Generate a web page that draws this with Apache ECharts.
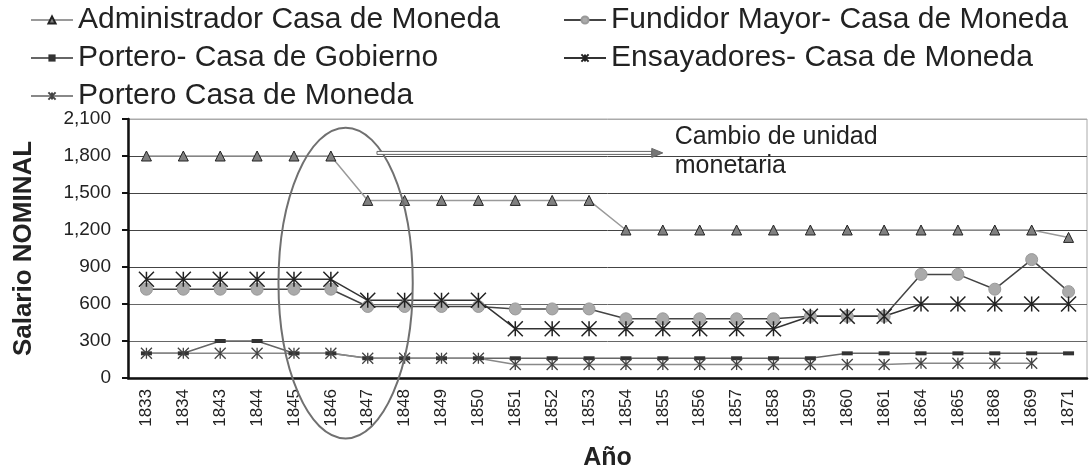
<!DOCTYPE html>
<html>
<head>
<meta charset="utf-8">
<script src="https://cdn.jsdelivr.net/npm/echarts@6/dist/echarts.min.js"></script>
<style>
  html, body { margin: 0; padding: 0; background: #fff; }
  #chart { width: 1089px; height: 472px; }
</style>
</head>
<body>
<div id="chart"></div>
<script>
// años (categorías del eje X)
const years = ['1833', '1834', '1843', '1844', '1845', '1846', '1847', '1848', '1849', '1850',
  '1851', '1852', '1853', '1854', '1855', '1856', '1857', '1858', '1859', '1860',
  '1861', '1864', '1865', '1868', '1869', '1871'];

// salarios nominales por cargo
const administrador = [1800, 1800, 1800, 1800, 1800, 1800, 1440, 1440, 1440, 1440,
  1440, 1440, 1440, 1200, 1200, 1200, 1200, 1200, 1200, 1200,
  1200, 1200, 1200, 1200, 1200, 1140];
const fundidor = [720, 720, 720, 720, 720, 720, 580, 580, 580, 580,
  560, 560, 560, 480, 480, 480, 480, 480, 500, 500,
  500, 840, 840, 720, 960, 700];
const porteroGobierno = [200, 200, 300, 300, 200, 200, 160, 160, 160, 160,
  160, 160, 160, 160, 160, 160, 160, 160, 160, 200,
  200, 200, 200, 200, 200, 200];
const ensayadores = [800, 800, 800, 800, 800, 800, 630, 630, 630, 630,
  400, 400, 400, 400, 400, 400, 400, 400, 500, 500,
  500, 600, 600, 600, 600, 600];
const porteroMoneda = [200, 200, 200, 200, 200, 200, 160, 160, 160, 160,
  110, 110, 110, 110, 110, 110, 110, 110, 110, 110,
  110, 120, 120, 120, 120, null];

const FONT = 'Liberation Sans, Arial, sans-serif';
const ASTER = 'path://M0,0L10,10M10,0L0,10M5,0L5,10';

const chart = echarts.init(document.getElementById('chart'));

const legendText = { fontSize: 30, fontFamily: FONT, color: '#222', lineHeight: 30 };

chart.setOption({
  animation: false,
  backgroundColor: '#fff',
  legend: [
    {
      orient: 'vertical', left: 30, top: 5, padding: 0, itemGap: 8,
      itemWidth: 42, itemHeight: 9,
      data: ['Administrador Casa de Moneda', 'Portero- Casa de Gobierno', 'Portero Casa de Moneda'],
      textStyle: legendText
    },
    {
      orient: 'vertical', left: 563, top: 5, padding: 0, itemGap: 8,
      itemWidth: 42, itemHeight: 9,
      data: ['Fundidor Mayor- Casa de Moneda', 'Ensayadores- Casa de Moneda'],
      textStyle: legendText
    }
  ],
  grid: {
    left: 128, right: 2, top: 119, bottom: 94,
    outerBoundsMode: 'none',
    show: true, borderColor: '#aaa', borderWidth: 1
  },
  xAxis: {
    type: 'category',
    data: years,
    boundaryGap: true,
    name: 'Año',
    nameLocation: 'middle',
    nameGap: 68,
    nameTextStyle: { fontSize: 25, fontWeight: 'bold', fontFamily: FONT, color: '#222' },
    axisLine: { lineStyle: { color: '#111', width: 2.5 } },
    axisTick: { length: 6, alignWithLabel: false, lineStyle: { color: '#111', width: 2 } },
    axisLabel: { rotate: 90, interval: 0, margin: 11, fontSize: 17, fontFamily: FONT, color: '#222' }
  },
  yAxis: {
    type: 'value',
    min: 0, max: 2100, interval: 300,
    name: 'Salario NOMINAL',
    nameLocation: 'middle',
    nameGap: 91,
    nameTextStyle: { fontSize: 26, fontWeight: 'bold', fontFamily: FONT, color: '#222' },
    axisLine: { show: true, lineStyle: { color: '#111', width: 2.5 } },
    axisTick: { show: true, length: 6, lineStyle: { color: '#111', width: 2 } },
    axisLabel: {
      margin: 17, fontSize: 19, fontFamily: FONT, color: '#222',
      formatter: (v) => v.toLocaleString('en-US')
    },
    splitLine: {
      lineStyle: { width: 1, color: ['#555', '#666', '#666', '#444', '#444', '#444', '#444', '#aaa'] }
    }
  },
  series: [
    {
      name: 'Administrador Casa de Moneda', type: 'line', data: administrador,
      symbol: 'triangle', symbolSize: 10,
      lineStyle: { color: '#9a9a9a', width: 1.5 },
      itemStyle: { color: '#808080', borderColor: '#222', borderWidth: 1 }
    },
    {
      name: 'Fundidor Mayor- Casa de Moneda', type: 'line', data: fundidor,
      symbol: 'circle', symbolSize: 12,
      lineStyle: { color: '#444', width: 1.5 },
      itemStyle: { color: '#aaa', borderColor: '#999', borderWidth: 1 }
    },
    {
      name: 'Portero- Casa de Gobierno', type: 'line', data: porteroGobierno,
      symbol: 'rect', symbolSize: [11, 4],
      lineStyle: { color: '#666', width: 1.5 },
      itemStyle: { color: '#333' }
    },
    {
      name: 'Ensayadores- Casa de Moneda', type: 'line', data: ensayadores,
      symbol: ASTER, symbolSize: 15,
      lineStyle: { color: '#333', width: 1.5 },
      itemStyle: { color: 'none', borderColor: '#222', borderWidth: 1.5 }
    },
    {
      name: 'Portero Casa de Moneda', type: 'line', data: porteroMoneda,
      symbol: ASTER, symbolSize: 11,
      lineStyle: { color: '#888', width: 1.5 },
      itemStyle: { color: 'none', borderColor: '#444', borderWidth: 1.3 }
    }
  ]
});

// anotaciones: elipse sobre el cambio de unidad y flecha con texto
function px(cat, val) {
  return chart.convertToPixel({ gridIndex: 0 }, [cat, val]);
}
const p46 = px('1846', 0), p47 = px('1847', 0);
const band = p47[0] - p46[0];
const y0 = p46[1];
const perUnit = (y0 - px('1846', 2100)[1]) / 2100;
const yOf = (v) => y0 - v * perUnit;
const cx = p46[0] + 0.4 * band;
const yTop = yOf(2030), yBot = yOf(-490);
const arrowY = yOf(1825);
const arrowX0 = p46[0] + 1.25 * band;
const arrowX1 = p46[0] + 8.7 * band;

chart.setOption({
  graphic: [
    {
      type: 'ellipse', z: 100,
      shape: { cx: cx, cy: (yTop + yBot) / 2, rx: 1.82 * band, ry: (yBot - yTop) / 2 },
      style: { fill: 'none', stroke: '#707070', lineWidth: 2 }
    },
    {
      type: 'rect', z: 100,
      shape: { x: arrowX0, y: arrowY - 1.5, width: arrowX1 - arrowX0, height: 3 },
      style: { fill: '#fff', stroke: '#666', lineWidth: 1 }
    },
    {
      type: 'polygon', z: 101,
      shape: { points: [[arrowX1, arrowY - 4.5], [arrowX1 + 11, arrowY], [arrowX1, arrowY + 4.5]] },
      style: { fill: '#777', stroke: '#666', lineWidth: 1 }
    },
    {
      type: 'text', z: 101,
      left: arrowX1 + 23, top: arrowY - 30,
      style: {
        text: 'Cambio de unidad\nmonetaria',
        font: '25px ' + FONT, fill: '#222', lineHeight: 29
      }
    }
  ]
});
</script>
</body>
</html>
